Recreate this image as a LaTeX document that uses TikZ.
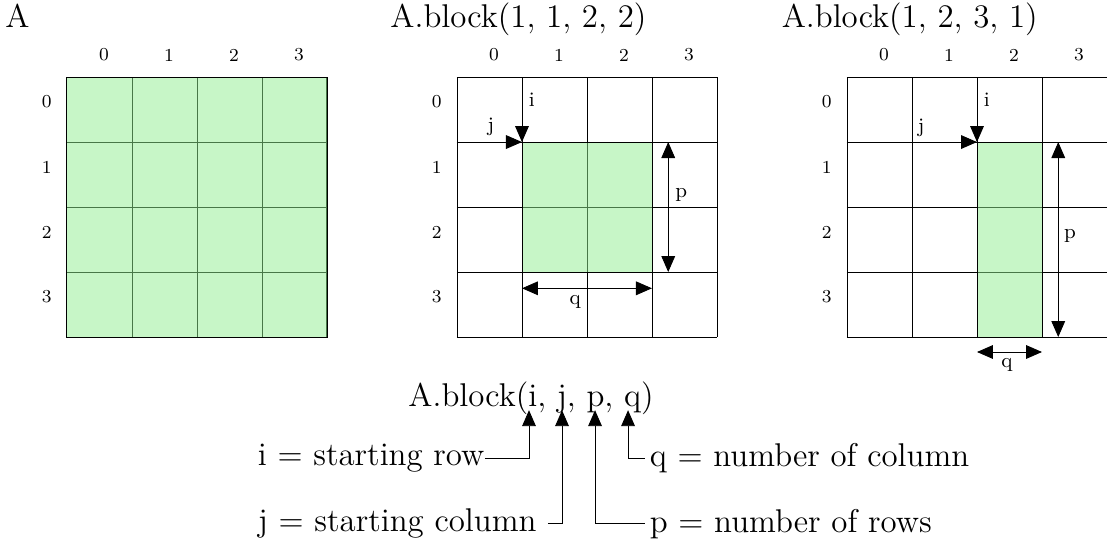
\documentclass[tikz,border=0pt]{standalone}
\usetikzlibrary{arrows.meta, positioning}
\definecolor{lightgreen}{RGB}{144,238,144}

\begin{document}
\begin{tikzpicture}[x=1cm, y=1cm,
  blk/.style={draw=black, thin, fill=lightgreen, fill opacity=0.5},
  idx/.style={font=\footnotesize, inner sep=0pt},
  lbl/.style={font=\small, inner sep=0pt},
  ttl/.style={font=\Large, inner sep=0pt, anchor=base west},
  desc/.style={font=\Large, inner sep=0pt},
  arr/.style={thin, -{Triangle[length=7pt, width=6pt]}},
  dbl/.style={thin, {Triangle[length=7pt, width=6pt]}-{Triangle[length=7pt, width=6pt]}}]
\useasboundingbox (0,0) rectangle (17.03,-8.323);

% titles
\node[ttl] (tA) at (0.077,-0.43) {A};
\node[ttl] (tB) at (6.0,-0.43) {A.block(1, 1, 2, 2)};
\node[ttl] (tC) at (12.02,-0.43) {A.block(1, 2, 3, 1)};

% the three 4x4 grids with their indices
\foreach \gx/\g in {1.03/a, 7.03/b, 13.03/c} {
  \begin{scope}[shift={(\gx,-1.185)}, yscale=-1]
    \draw[thin] (0,0) grid (4,4);
    \foreach \k in {0,...,3} {
      \node[idx] (\g col\k) at (\k+0.57,-0.34) {\k};
      \node[idx] (\g row\k) at (-0.31,\k+0.385) {\k};
    }
  \end{scope}
}

% A
\begin{scope}[shift={(1.03,-1.185)}, yscale=-1]
  \draw[blk] (0,0) rectangle (4,4);
\end{scope}

% A.block(1, 1, 2, 2)
\begin{scope}[shift={(7.03,-1.185)}, yscale=-1]
  \draw[blk] (1,1) rectangle (3,3);
  \draw[arr] (1,0) -- (1,1);
  \draw[arr] (0,1) -- (1,1);
  \draw[dbl] (3.25,1) -- (3.25,3);
  \draw[dbl] (1,3.25) -- (3,3.25);
  \node[lbl] (bi) at (1.15,0.35) {i};
  \node[lbl] (bj) at (0.52,0.77) {j};
  \node[lbl] (bp) at (3.45,1.82) {p};
  \node[lbl] (bq) at (1.82,3.46) {q};
\end{scope}

% A.block(1, 2, 3, 1)
\begin{scope}[shift={(13.03,-1.185)}, yscale=-1]
  \draw[blk] (2,1) rectangle (3,4);
  \draw[arr] (2,0) -- (2,1);
  \draw[arr] (0,1) -- (2,1);
  \draw[dbl] (3.25,1) -- (3.25,4);
  \draw[dbl] (2,4.23) -- (3,4.23);
  \node[lbl] (ci) at (2.15,0.35) {i};
  \node[lbl] (cj) at (1.14,0.78) {j};
  \node[lbl] (cp) at (3.43,2.45) {p};
  \node[lbl] (cq) at (2.46,4.43) {q};
\end{scope}

% the call and its arguments
\node[ttl] (call) at (6.277,-6.26) {A.block(i, j, p, q)};
\coordinate (iTip) at (8.138,-6.31);
\coordinate (jTip) at (8.646,-6.31);
\coordinate (pTip) at (9.154,-6.31);
\coordinate (qTip) at (9.662,-6.31);

\node[desc, anchor=east] (iDesc) at (7.46,-7.05) {i = starting row};
\node[desc, anchor=east] (jDesc) at (8.43,-8.06) {j = starting column\kern 4.8pt};
\node[desc, anchor=west] (qDesc) at (9.92,-7.05) {\kern 2pt q = number of column};
\node[desc, anchor=west] (pDesc) at (9.92,-8.06) {\kern 2pt p = number of rows};

\draw[arr] (iDesc.east) -| (iTip);
\draw[arr] (jDesc.east) -| (jTip);
\draw[arr] (pDesc.west) -| (pTip);
\draw[arr] (qDesc.west) -| (qTip);

\end{tikzpicture}
\end{document}
